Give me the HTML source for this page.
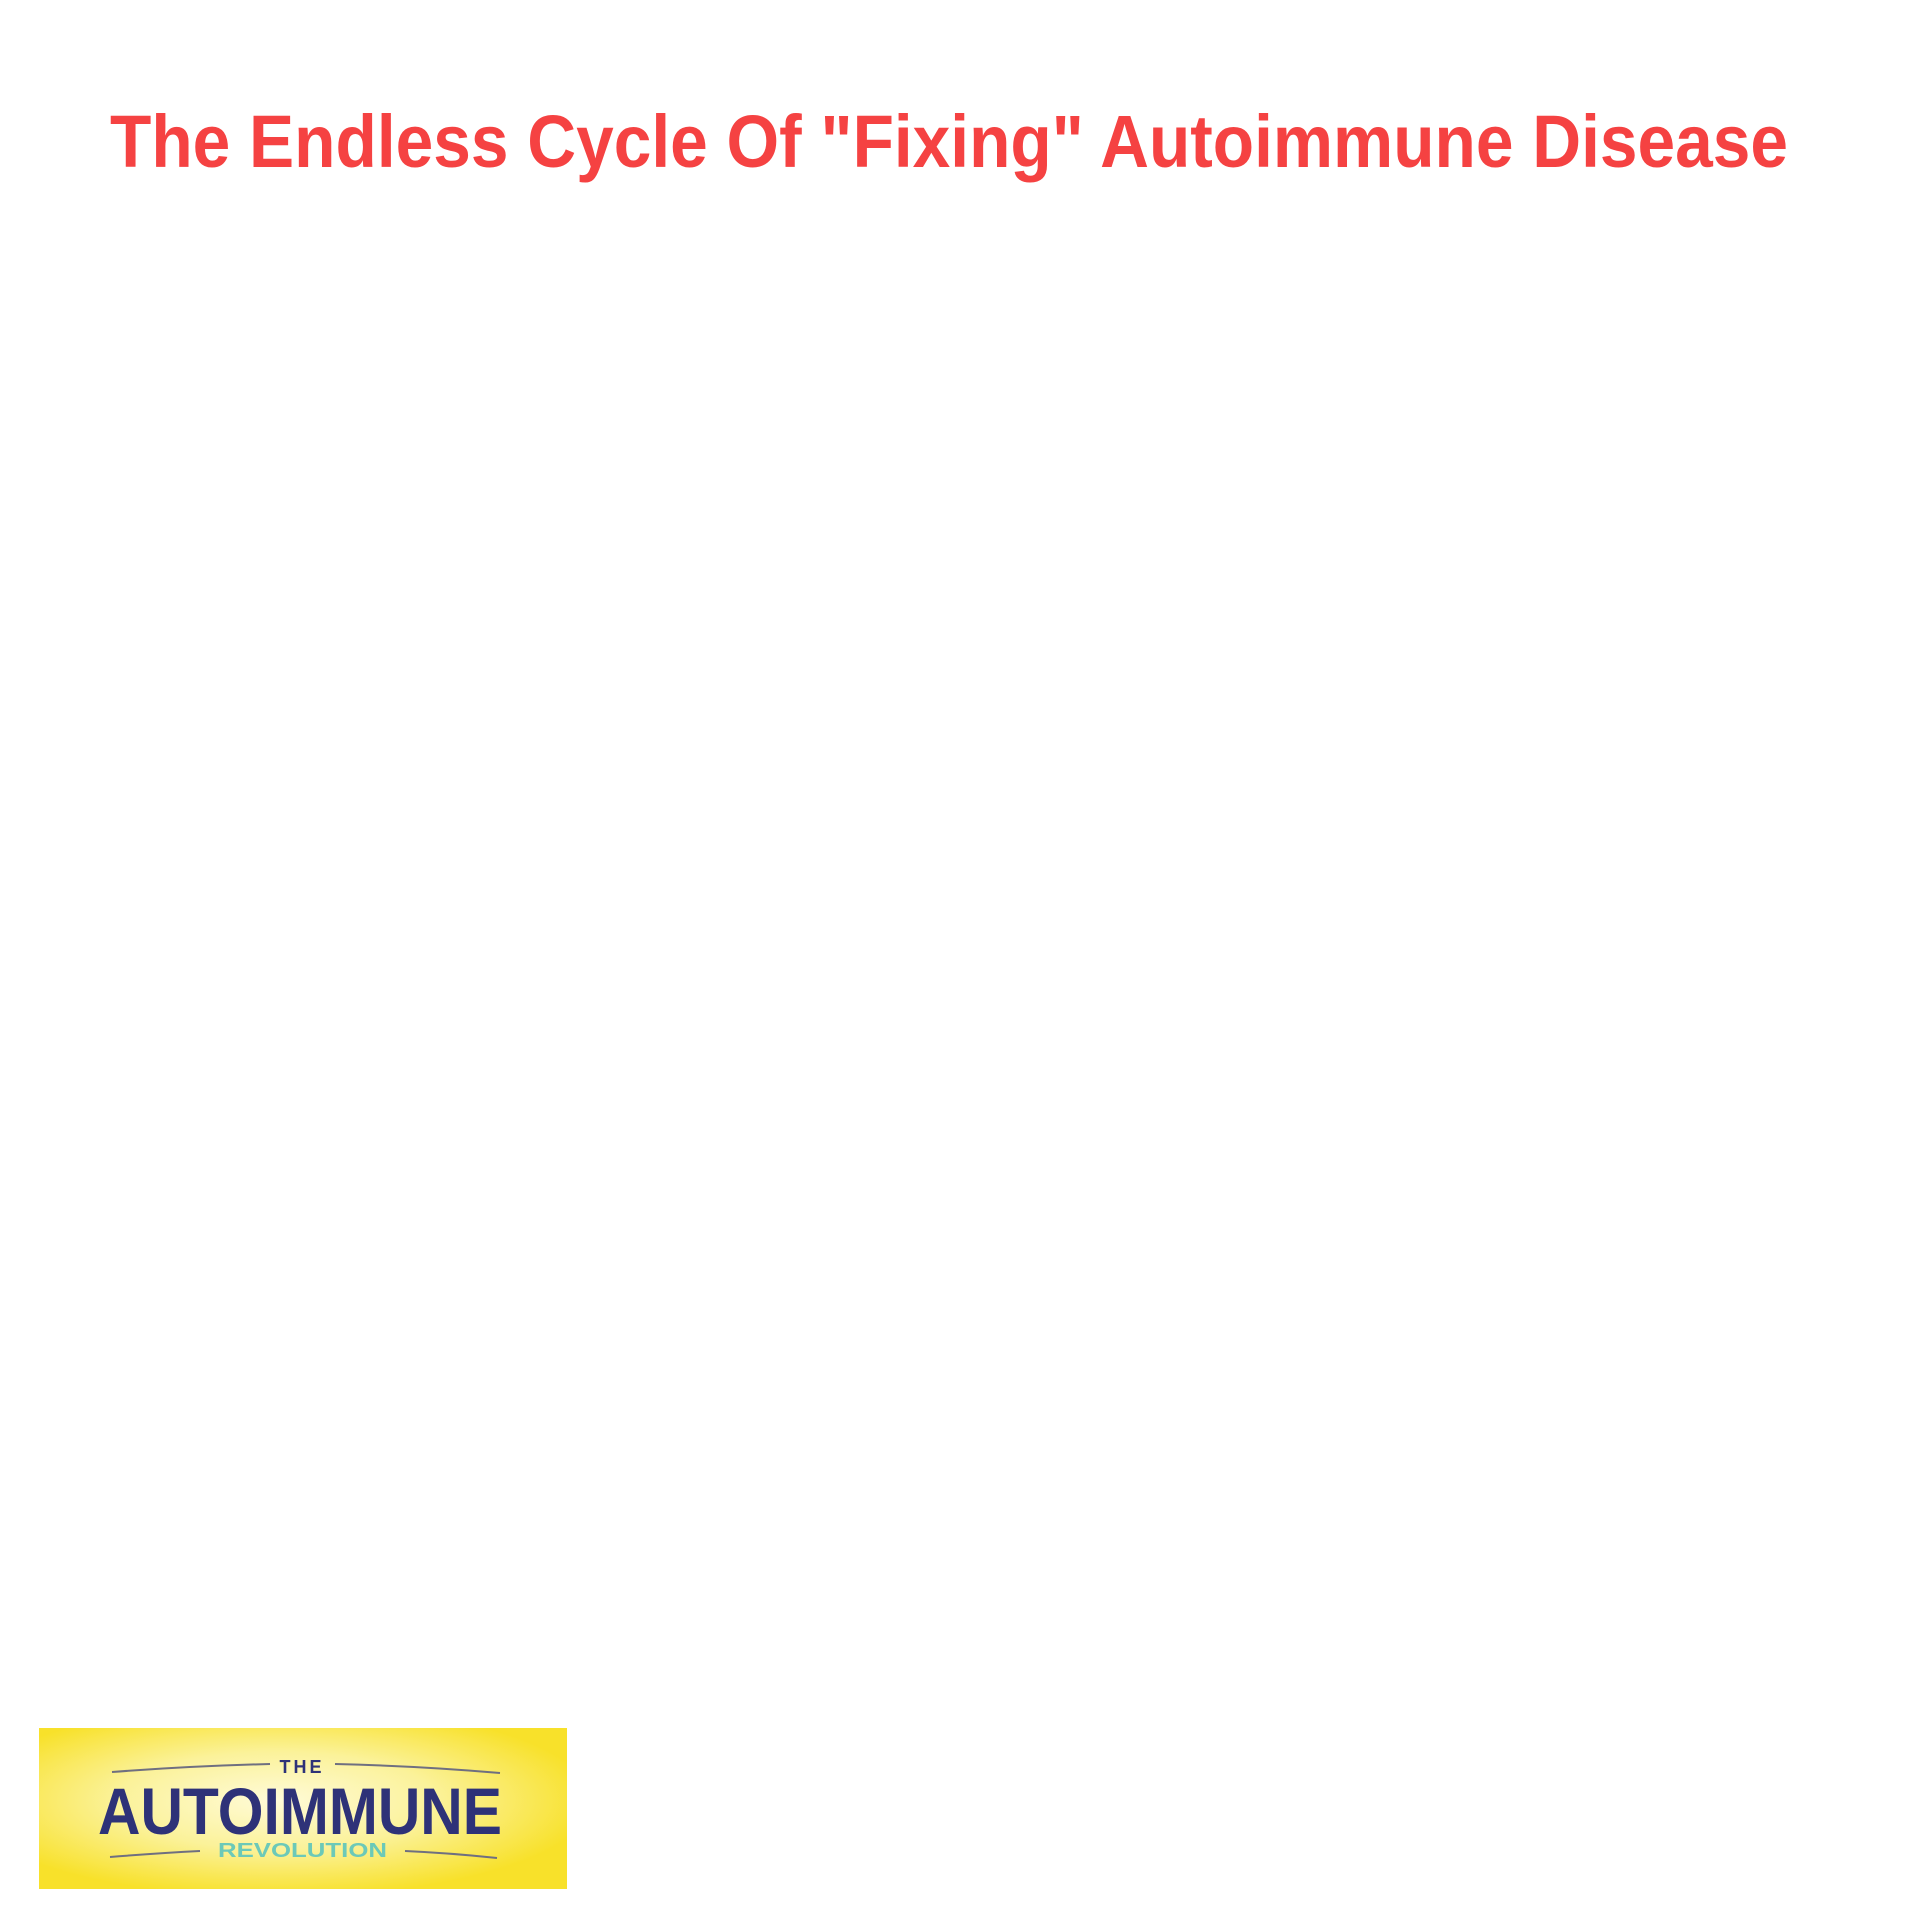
<!DOCTYPE html>
<html><head><meta charset="utf-8"><style>
html,body{margin:0;padding:0;background:#fff;width:1920px;height:1920px;overflow:hidden}
</style></head><body>
<svg width="1920" height="1920" viewBox="0 0 1920 1920" xmlns="http://www.w3.org/2000/svg">
<defs>
<radialGradient id="g" cx="0.45" cy="0.45" r="0.6">
<stop offset="0" stop-color="#fffbd8"/>
<stop offset="0.5" stop-color="#fbf29a"/>
<stop offset="1" stop-color="#f8e12a"/>
</radialGradient>
</defs>
<rect width="1920" height="1920" fill="#fff"/>
<text x="110" y="167" font-family="Liberation Sans, sans-serif" font-weight="bold" font-size="74" fill="#f54242" textLength="1678" lengthAdjust="spacingAndGlyphs">The Endless Cycle Of "Fixing" Autoimmune Disease</text>
<rect x="39" y="1728" width="528" height="161" fill="url(#g)"/>
<g stroke="#6f6f80" stroke-width="2" fill="none">
<path d="M112 1772 Q190 1766 270 1764"/>
<path d="M335 1764 Q420 1766 500 1773"/>
<path d="M110 1857 Q160 1853 200 1851"/>
<path d="M405 1851 Q450 1853 497 1858"/>
</g>
<text x="302" y="1773" text-anchor="middle" font-family="Liberation Sans, sans-serif" font-weight="bold" font-size="18" fill="#2e3278" letter-spacing="3">THE</text>
<text x="98" y="1834" font-family="Liberation Sans, sans-serif" font-weight="bold" font-size="66" fill="#2e3278" textLength="404" lengthAdjust="spacingAndGlyphs">AUTOIMMUNE</text>
<text x="218" y="1857" font-family="Liberation Sans, sans-serif" font-weight="bold" font-size="20" fill="#6cc9b8" textLength="169" lengthAdjust="spacingAndGlyphs">REVOLUTION</text>
</svg>
</body></html>
